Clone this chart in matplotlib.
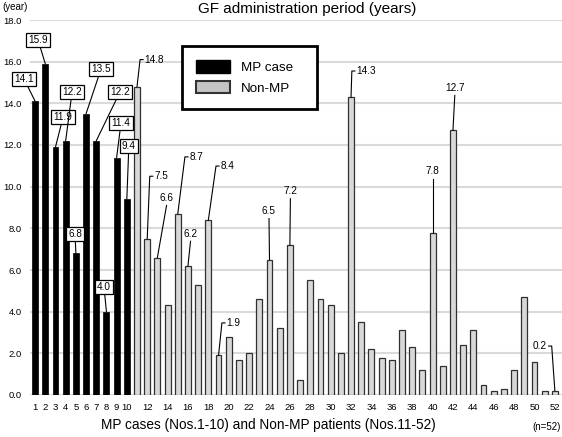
import matplotlib
matplotlib.use("Agg")
import matplotlib.pyplot as plt
from matplotlib.patches import Patch

plt.rcParams['font.family'] = ['Liberation Sans', 'DejaVu Sans']

# ---- data ----
mp_ids = list(range(1, 11))
mp_values = [14.1, 15.9, 11.9, 12.2, 6.8, 13.5, 12.2, 4.0, 11.4, 9.4]
nonmp_ids = list(range(11, 53))
nonmp_values = [14.8, 7.5, 6.6, 4.3, 8.7, 6.2, 5.3, 8.4, 1.9, 2.8,
                1.7, 2.0, 4.6, 6.5, 3.2, 7.2, 0.7, 5.5, 4.6, 4.3,
                2.0, 14.3, 3.5, 2.2, 1.8, 1.7, 3.1, 2.3, 1.2, 7.8,
                1.4, 12.7, 2.4, 3.1, 0.5, 0.2, 0.3, 1.2, 4.7, 1.6,
                0.2, 0.2]
xtick_vals = list(range(1, 11)) + list(range(12, 53, 2))
ytick_vals = [0, 2, 4, 6, 8, 10, 12, 14, 16, 18]

# boxed label positions for MP bars (x, y in data coords)
mp_label_pos = [(-0.08, 15.17), (1.29, 17.04), (3.75, 13.35), (4.63, 14.55),
                (4.92, 7.73), (7.47, 15.65), (9.33, 14.55), (7.76, 5.18),
                (9.43, 13.06), (10.2, 11.95)]

# non-MP labelled bars: (id, mode, x, y)
nonmp_labels = [(11, 'tickR', 11.3, 16.1), (12, 'tickR', 12.25, 10.5),
                (13, 'center', 13.9, 9.1), (15, 'tickR', 15.7, 11.43),
                (16, 'center', 16.25, 7.38), (18, 'tickR', 18.75, 10.99),
                (19, 'tickR', 19.33, 3.46), (24, 'center', 23.95, 8.47),
                (26, 'center', 26.05, 9.42), (32, 'tickR', 32.08, 15.55),
                (40, 'center', 40.0, 10.38), (42, 'center', 42.18, 14.38),
                (52, 'tickL', 51.69, 2.35)]

fig = plt.figure(figsize=(5.62, 4.37), dpi=100)
ax = fig.add_axes([30/562, 42/437, 532/562, 375/437])

ax.set_xlim(0.5, 52.7)
ax.set_ylim(0, 18)
for s in ax.spines.values():
    s.set_visible(False)
ax.set_yticks(ytick_vals)
ax.set_yticklabels([f"{v:.1f}" for v in ytick_vals], fontsize=6.8)
ax.set_xticks(xtick_vals)
ax.set_xticklabels([str(v) for v in xtick_vals], fontsize=6.8)
ax.tick_params(axis='both', length=0)
ax.tick_params(axis='y', pad=6)
ax.tick_params(axis='x', pad=6)
ax.yaxis.grid(True, color='#dadada', lw=1.5)
ax.set_axisbelow(True)

bw = 0.58
ax.bar(mp_ids, mp_values, width=bw, color='black', edgecolor='black',
       lw=0.5, label='MP case', zorder=2)
ax.bar(nonmp_ids, nonmp_values, width=bw, color='#d8d8d8',
       edgecolor='#303030', lw=0.9, label='Non-MP', zorder=2)

lfs = 7.2
for i, v, (tx, ty) in zip(mp_ids, mp_values, mp_label_pos):
    ax.annotate(f"{v:.1f}", xy=(i, v), xytext=(tx, ty), ha='center',
                va='center', fontsize=lfs, annotation_clip=False, zorder=5,
                bbox=dict(boxstyle='square,pad=0.22', fc='white',
                          ec='black', lw=0.9),
                arrowprops=dict(arrowstyle='-', lw=0.8, color='black',
                                shrinkA=0, shrinkB=0))

val_map = dict(zip(nonmp_ids, nonmp_values))
for i, mode, ex, ey in nonmp_labels:
    v = val_map[i]
    if mode == 'tickR':
        ax.plot([i, ex, ex + 0.3], [v, ey, ey], color='black', lw=0.8, zorder=4)
        ax.text(ex + 0.45, ey, f"{v:.1f}", ha='left', va='center', fontsize=lfs)
    elif mode == 'tickL':
        ax.plot([i, ex, ex - 0.3], [v, ey, ey], color='black', lw=0.8, zorder=4)
        ax.text(ex - 0.45, ey, f"{v:.1f}", ha='right', va='center', fontsize=lfs)
    else:
        ax.plot([i, ex], [v, ey], color='black', lw=0.8, zorder=4)
        ax.text(ex, ey + 0.12, f"{v:.1f}", ha='center', va='bottom', fontsize=lfs)

handles = [Patch(facecolor='black', edgecolor='black', label='MP case'),
           Patch(facecolor='#c4c4c4', edgecolor='#333333', lw=1.5, label='Non-MP')]
leg = ax.legend(handles=handles, loc='upper left', mode='expand',
                bbox_to_anchor=(152/532, 286/375, 135/532, 63/375), fontsize=9.6,
                handlelength=2.55, handleheight=1.1, handletextpad=0.8,
                labelspacing=0.5, borderpad=1.05, borderaxespad=0,
                fancybox=False, framealpha=1, edgecolor='black')
leg.get_frame().set_linewidth(2)

fig.text(307/562, 1 - 9/437, 'GF administration period (years)',
         ha='center', va='center', fontsize=11)
fig.text(2/562, 1 - 7/437, '(year)', ha='left', va='center', fontsize=7)
fig.text(268/562, 1 - 425/437,
         'MP cases (Nos.1-10) and Non-MP patients (Nos.11-52)',
         ha='center', va='center', fontsize=9.8)
fig.text(547/562, 1 - 427/437, '(n=52)', ha='center', va='center', fontsize=7)

fig.savefig('out.png', dpi=100)
